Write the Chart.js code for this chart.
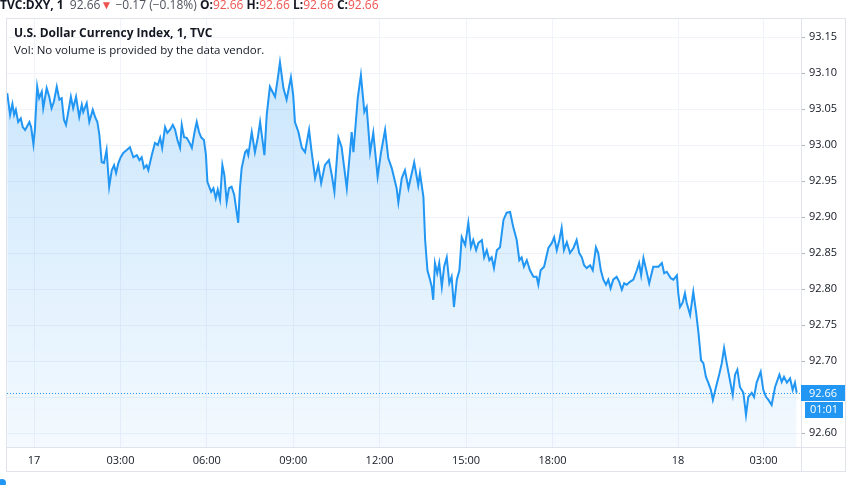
<!DOCTYPE html>
<html>
<head>
<meta charset="utf-8">
<script src="https://cdn.jsdelivr.net/npm/chart.js@4.4.0/dist/chart.umd.min.js"></script>
<style>
  html, body { margin: 0; padding: 0; background: #fff; }
  body { width: 852px; height: 485px; position: relative; overflow: hidden; font-family: 'Open Sans', 'Noto Sans', sans-serif; color: #131722; }
  #chart { position: absolute; left: 0; top: 0; }
  .hdr { position: absolute; left: 0; top: -4px; font-size: 12px; white-space: nowrap; }
  .hdr b { font-weight: 700; }
  .hdr .g { color: #50535e; }
  .hdr .r { color: #ef5350; }
  .legend { position: absolute; left: 14px; font-size: 12px; white-space: nowrap; }
  .dot { position: absolute; left: -2px; top: 479px; width: 8px; height: 8px; border-radius: 50%; background: #2196f3; }
</style>
</head>
<body>
<canvas id="chart" width="852" height="485"></canvas>
<div class="hdr"><b>TVC:DXY, 1</b>&nbsp; <span class="g">92.66</span><span class="r">&#9660;</span> <span class="g">&minus;0.17 (&minus;0.18%)</span> <b>O:</b><span class="r">92.66</span> <b>H:</b><span class="r">92.66</span> <b>L:</b><span class="r">92.66</span> <b>C:</b><span class="r">92.66</span></div>
<div class="legend" style="top:24px;font-weight:700">U.S. Dollar Currency Index, 1, TVC</div>
<div class="legend" style="top:42px;font-size:11.5px">Vol: No volume is provided by the data vendor.</div>
<div class="dot"></div>
<script>
// session hours (closed hours compressed like the source chart), 0 = 17th 00:00
const hours = [
  -0.93, -0.83, -0.75, -0.69, -0.63, -0.55, -0.46, -0.39, -0.31, -0.25,
  -0.16, -0.10, -0.02, 0.03, 0.11, 0.18, 0.27, 0.32, 0.44, 0.53,
  0.61, 0.69, 0.79, 0.88, 0.96, 1.04, 1.11, 1.19, 1.28, 1.36,
  1.46, 1.57, 1.66, 1.71, 1.83, 1.92, 2.04, 2.12, 2.20, 2.27,
  2.35, 2.43, 2.52, 2.61, 2.70, 2.78, 2.85, 2.93, 3.01, 3.10,
  3.22, 3.33, 3.45, 3.57, 3.66, 3.74, 3.82, 3.91, 3.97, 4.09,
  4.20, 4.30, 4.38, 4.45, 4.55, 4.63, 4.72, 4.82, 4.90, 4.98,
  5.07, 5.13, 5.21, 5.30, 5.39, 5.48, 5.57, 5.65, 5.73, 5.80,
  5.90, 5.97, 6.02,
  6.15, 6.23, 6.31, 6.38, 6.46, 6.54, 6.61, 6.69, 6.77, 6.86,
  6.95, 7.09, 7.15, 7.21, 7.33, 7.39, 7.44, 7.56, 7.67, 7.77,
  7.85, 8.00, 8.08, 8.19, 8.37, 8.48, 8.54, 8.66, 8.77, 8.92,
  9.00, 9.06, 9.18, 9.30, 9.41, 9.55, 9.64, 9.76, 9.87, 9.97,
  10.10, 10.24, 10.34, 10.43, 10.57, 10.68, 10.86, 11.03, 11.09, 11.24,
  11.35, 11.47, 11.55, 11.67, 11.78, 11.93, 12.05, 12.19, 12.30, 12.42,
  12.59, 12.65, 12.77, 12.88, 13.00, 13.20, 13.34, 13.40, 13.52,
  13.58, 13.66, 13.75, 13.81, 13.86, 13.92, 14.00, 14.07, 14.16, 14.24,
  14.33, 14.42, 14.50, 14.58, 14.68, 14.77, 14.85, 14.97, 15.08, 15.17,
  15.25, 15.35, 15.43, 15.55, 15.63, 15.72, 15.81, 15.89, 15.97, 16.07,
  16.18, 16.30, 16.41, 16.53, 16.64, 16.76, 16.85, 16.93, 17.01, 17.11,
  17.22, 17.34, 17.45, 17.51, 17.59, 17.71, 17.86, 17.98, 18.06, 18.15,
  18.24, 18.32, 18.40, 18.50, 18.61, 18.73, 18.84, 18.93, 19.02, 19.10,
  19.19, 19.31, 19.40, 19.51, 19.59, 19.68, 19.77, 19.86, 19.94, 20.02,
  20.11, 20.23, 20.32, 20.41, 20.49, 20.58, 20.69, 20.81, 20.93, 21.01,
  21.08, 21.16, 21.27, 21.36,
  21.50, 21.68, 21.80, 21.88, 21.97, 22.11, 22.20, 22.32, 22.37, 22.43,
  22.52, 22.60, 22.66, 22.78, 22.89, 22.99, 23.07, 23.16, 23.24, 23.33,
  23.41, 23.50, 23.57, 23.68, 23.80, 23.88, 23.96, 24.05, 24.14, 24.26,
  24.34, 24.42, 24.51, 24.63, 24.72, 24.80, 24.92, 25.00, 25.09, 25.23,
  25.32, 25.42, 25.50, 25.61, 25.73, 25.88, 25.96, 26.04, 26.14, 26.25,
  26.34, 26.42, 26.48
];
const prices = [
  93.072, 93.042, 93.057, 93.042, 93.049, 93.032, 93.037, 93.025, 93.021, 93.025,
  93.032, 93.025, 93.001, 93.021, 93.081, 93.065, 93.074, 93.051, 93.079, 93.067,
  93.051, 93.060, 93.081, 93.063, 93.065, 93.035, 93.028, 93.046, 93.067, 93.051,
  93.067, 93.039, 93.056, 93.046, 93.058, 93.032, 93.049, 93.039, 93.032, 93.014,
  92.976, 92.975, 92.993, 92.942, 92.965, 92.972, 92.961, 92.975, 92.983, 92.989,
  92.993, 92.997, 92.983, 92.986, 92.979, 92.983, 92.968, 92.972, 92.965, 92.986,
  93.003, 93.000, 93.010, 92.996, 93.025, 93.017, 93.021, 93.028, 93.021, 93.007,
  92.996, 93.028, 93.011, 93.010, 93.004, 92.996, 93.017, 93.032, 93.018, 93.011,
  93.007, 92.986, 92.949,
  92.935, 92.940, 92.926, 92.938, 92.924, 92.972, 92.958, 92.921, 92.940, 92.942,
  92.931, 92.892, 92.940, 92.968, 92.990, 92.993, 92.986, 93.018, 92.990, 93.010,
  93.032, 92.986, 93.042, 93.081, 93.067, 93.097, 93.115, 93.079, 93.063, 93.094,
  93.069, 93.032, 93.018, 92.996, 92.990, 93.021, 92.990, 92.954, 92.972, 92.947,
  92.972, 92.979, 92.958, 92.935, 93.010, 92.997, 92.940, 93.018, 92.990, 93.065,
  93.097, 93.046, 93.053, 92.990, 93.017, 92.956, 92.990, 93.021, 92.982, 92.968,
  92.940, 92.920, 92.954, 92.965, 92.940, 92.976, 92.944, 92.961, 92.928,
  92.868, 92.826, 92.813, 92.803, 92.785, 92.836, 92.822, 92.836, 92.803, 92.831,
  92.844, 92.808, 92.817, 92.775, 92.813, 92.826, 92.872, 92.861, 92.892, 92.858,
  92.868, 92.854, 92.864, 92.868, 92.844, 92.854, 92.840, 92.844, 92.829, 92.854,
  92.858, 92.896, 92.906, 92.907, 92.886, 92.868, 92.840, 92.844, 92.831, 92.840,
  92.826, 92.817, 92.817, 92.806, 92.826, 92.831, 92.857, 92.864, 92.872, 92.854,
  92.868, 92.885, 92.854, 92.865, 92.850, 92.857, 92.868, 92.850, 92.844, 92.833,
  92.829, 92.833, 92.826, 92.858, 92.850, 92.826, 92.813, 92.806, 92.813, 92.801,
  92.813, 92.817, 92.810, 92.799, 92.808, 92.806, 92.810, 92.813, 92.826, 92.836,
  92.819, 92.843, 92.824, 92.808,
  92.831, 92.831, 92.836, 92.822, 92.824, 92.815, 92.813, 92.819, 92.794, 92.775,
  92.781, 92.794, 92.781, 92.764, 92.796, 92.767, 92.739, 92.701, 92.697, 92.678,
  92.670, 92.660, 92.646, 92.664, 92.683, 92.697, 92.718, 92.697, 92.678, 92.653,
  92.681, 92.688, 92.664, 92.656, 92.625, 92.650, 92.656, 92.650, 92.670, 92.685,
  92.660, 92.650, 92.646, 92.639, 92.664, 92.681, 92.671, 92.678, 92.670, 92.676,
  92.660, 92.670, 92.656
];
const xTickPos = [0, 3, 6, 9, 12, 15, 18, 22.36, 25.33];
const xTickLabels = ['17', '03:00', '06:00', '09:00', '12:00', '15:00', '18:00', '18', '03:00'];
const yTicks = [92.60, 92.65, 92.70, 92.75, 92.80, 92.85, 92.90, 92.95, 93.00, 93.05, 93.10, 93.15];
const lastPrice = prices[prices.length - 1];
const countdown = '01:01';

const BLUE = '#2196f3';
const GRID = '#f0f3fa';
const BORDER = '#e0e3eb';
const FONT = "'Open Sans', 'Noto Sans', sans-serif";

const framePlugin = {
    id: 'frame',
    afterDatasetsDraw(chart) {
        const { ctx, chartArea: a, scales: { y } } = chart;
        const py = Math.round(y.getPixelForValue(lastPrice)) + 0.5;
        ctx.save();
        ctx.strokeStyle = BLUE;
        ctx.lineWidth = 1;
        ctx.setLineDash([1, 2]);
        ctx.beginPath();
        ctx.moveTo(a.left, py);
        ctx.lineTo(a.right, py);
        ctx.stroke();
        ctx.restore();
    },
    afterDraw(chart) {
        const { ctx, chartArea: a, scales: { y } } = chart;
        ctx.save();
        // outer box and axis separators
        ctx.strokeStyle = BORDER;
        ctx.lineWidth = 1;
        ctx.strokeRect(6.5, 18.5, 839, 453);
        ctx.beginPath();
        ctx.moveTo(a.right + 0.5, a.bottom);
        ctx.lineTo(a.right + 0.5, 472);
        ctx.moveTo(a.right, a.bottom + 0.5);
        ctx.lineTo(846, a.bottom + 0.5);
        ctx.stroke();

        // last price + countdown labels
        const py = Math.round(y.getPixelForValue(lastPrice));
        ctx.fillStyle = BLUE;
        ctx.fillRect(a.right, py - 8, 44, 16);
        ctx.fillRect(a.right + 4, py + 9, 38, 16);
        ctx.fillStyle = '#ffffff';
        ctx.font = '11px ' + FONT;
        ctx.textAlign = 'center';
        ctx.textBaseline = 'middle';
        ctx.fillText(lastPrice.toFixed(2), a.right + 22, py + 1);
        ctx.fillText(countdown, a.right + 23, py + 17);
        ctx.restore();
    }
};

new Chart(document.getElementById('chart').getContext('2d'), {
    type: 'line',
    data: {
        datasets: [{
            data: hours.map((h, i) => ({ x: h, y: prices[i] })),
            borderColor: BLUE,
            borderWidth: 2,
            pointRadius: 0,
            tension: 0,
            fill: 'start',
            backgroundColor: ctx => {
                const area = ctx.chart.chartArea;
                if (!area) return 'rgba(33,150,243,0.15)';
                const g = ctx.chart.ctx.createLinearGradient(0, area.top, 0, area.bottom);
                g.addColorStop(0, 'rgba(33,150,243,0.26)');
                g.addColorStop(1, 'rgba(33,150,243,0.05)');
                return g;
            }
        }]
    },
    options: {
        responsive: false,
        animation: false,
        layout: { padding: { left: 7, top: 19, right: 6, bottom: 13 } },
        plugins: { legend: { display: false }, tooltip: { enabled: false } },
        scales: {
            x: {
                type: 'linear',
                min: -0.9375,
                max: 26.63,
                afterBuildTicks: axis => { axis.ticks = xTickPos.map(v => ({ value: v })); },
                afterFit: axis => { axis.height = 25; },
                grid: { color: GRID, drawTicks: false },
                border: { color: BORDER },
                ticks: {
                    autoSkip: false,
                    maxRotation: 0,
                    padding: 7,
                    color: '#131722',
                    font: { family: FONT, size: 11 },
                    callback: (v, i) => xTickLabels[i]
                }
            },
            y: {
                position: 'right',
                min: 92.5806,
                max: 93.175,
                afterBuildTicks: axis => { axis.ticks = yTicks.map(v => ({ value: v })); },
                afterFit: axis => { axis.width = 45; },
                grid: { color: GRID, drawTicks: true, tickLength: 4, tickColor: '#b2b5be' },
                border: { color: BORDER },
                ticks: {
                    padding: 4,
                    color: '#131722',
                    font: { family: FONT, size: 11 },
                    callback: v => v.toFixed(2)
                }
            }
        }
    },
    plugins: [framePlugin]
});
</script>
</body>
</html>
